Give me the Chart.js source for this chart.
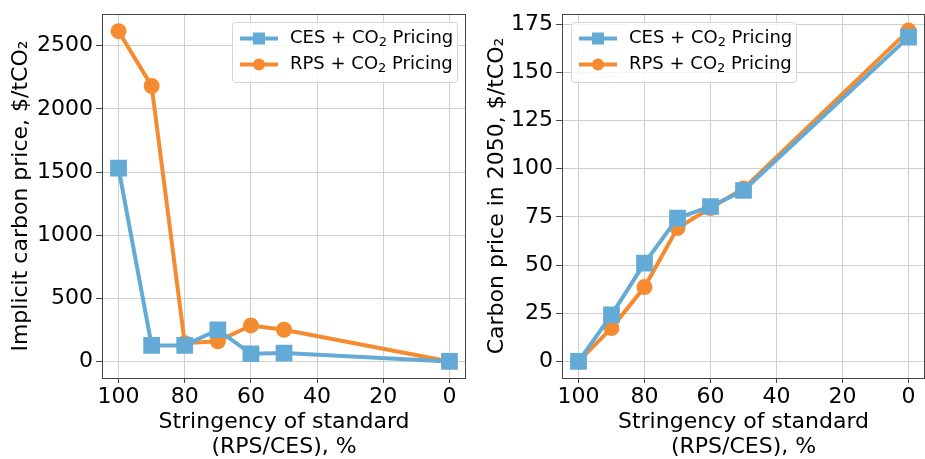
<!DOCTYPE html>
<html><head><meta charset="utf-8">
<script src="https://cdn.jsdelivr.net/npm/chart.js@4"></script>
<style>
html,body{margin:0;padding:0;background:#fff;}
#w{position:relative;width:925px;height:459px;}
#c1{position:absolute;left:0;top:0;}
#c2{position:absolute;left:470px;top:0;}
</style></head>
<body><div id="w"><canvas id="c1" width="470" height="459"></canvas><canvas id="c2" width="455" height="459"></canvas></div>
<script>
const stringency = [100, 90, 80, 70, 60, 50, 0];
const cesImplicit = [1530, 127, 127, 251, 61, 66, 0];
const rpsImplicit = [2615, 2181, 145, 160, 285, 251, 0];
const ces2050 = [0, 24.2, 51.0, 74.4, 80.4, 88.7, 168.3];
const rps2050 = [0, 17.3, 38.6, 69.2, 79.6, 89.7, 171.7];
const xTicks = [0, 20, 40, 60, 80, 100];
const yTicksLeft = [0, 500, 1000, 1500, 2000, 2500];
const yTicksRight = [0, 25, 50, 75, 100, 125, 150, 175];
const seriesNames = ['CES + CO\u2082 Pricing', 'RPS + CO\u2082 Pricing'];
const yTitles = ['Implicit carbon price, $/tCO\u2082', 'Carbon price in 2050, $/tCO\u2082'];
const xTitle = ['Stringency of standard', '(RPS/CES), %'];

const BLUE = '#63abd6', ORANGE = '#f58b31';
const FONT = 'DejaVu Sans';

function pts(vals){ return stringency.map((s,i)=>({x:s,y:vals[i]})); }

function drawSubText(ctx, text, x, y, size){
  const parts = text.split('\u2082');
  let cx = x;
  parts.forEach((p,i)=>{
    ctx.font = size+'px "'+FONT+'"';
    ctx.fillText(p, cx, y); cx += ctx.measureText(p).width;
    if (i < parts.length-1){
      const ss = Math.round(size*0.7);
      ctx.font = ss+'px "'+FONT+'"';
      ctx.fillText('2', cx, y + size*0.25); cx += ctx.measureText('2').width;
    }
  });
}

const frameLegend = {
  id:'frameLegend',
  afterDraw(chart, args, opts){
    const ctx = chart.ctx, a = chart.chartArea;
    ctx.save();
    ctx.strokeStyle = '#444'; ctx.lineWidth = 1;
    ctx.strokeRect(Math.round(a.left)+0.5, Math.round(a.top)+0.5, Math.round(a.right-a.left)-1, Math.round(a.bottom-a.top));
    const bx = opts.x, by = opts.y, bw = 225, bh = 60;
    ctx.fillStyle = 'rgba(255,255,255,0.8)';
    ctx.strokeStyle = '#d5d5d5';
    ctx.beginPath(); ctx.roundRect(bx+0.5, by+0.5, bw, bh, 3); ctx.fill(); ctx.stroke();
    chart.data.datasets.forEach((ds,i)=>{
      const cy = by + 16.5 + i*26;
      ctx.strokeStyle = ds.borderColor; ctx.lineWidth = 4;
      ctx.beginPath(); ctx.moveTo(bx+8, cy); ctx.lineTo(bx+46, cy); ctx.stroke();
      ctx.fillStyle = ds.borderColor;
      if (ds.pointStyle === 'rect') { ctx.fillRect(bx+27-6, cy-6, 12, 12); }
      else { ctx.beginPath(); ctx.arc(bx+27, cy, 6, 0, Math.PI*2); ctx.fill(); }
      ctx.fillStyle = '#000'; ctx.textBaseline = 'middle'; ctx.textAlign='left';
      drawSubText(ctx, ds.label, bx+58, cy, 18);
    });
    ctx.restore();
  }
};

function makeChart(id, a, b, yTicks, yMin, yMax, yTitle, yWidth, padRight, legX, titlePad){
  return new Chart(document.getElementById(id), {
    type:'line',
    data:{datasets:[
      {label:seriesNames[0], data:pts(a), borderColor:BLUE, backgroundColor:BLUE, borderWidth:4, pointStyle:'rect', pointRadius:9, pointHoverRadius:9, tension:0, clip:false},
      {label:seriesNames[1], data:pts(b), borderColor:ORANGE, backgroundColor:ORANGE, borderWidth:4, pointStyle:'circle', pointRadius:6, pointHoverRadius:6, tension:0, clip:false}
    ]},
    options:{
      responsive:false, animation:false, devicePixelRatio:1,
      layout:{autoPadding:false, padding:{top:14, right:padRight, left:0, bottom:0}},
      plugins:{legend:{display:false}, tooltip:{enabled:false}, frameLegend:{x:legX, y:22}},
      scales:{
        x:{type:'linear', reverse:true, min:-5, max:105,
          afterBuildTicks(s){ s.ticks = xTicks.map(v=>({value:v})); },
          afterFit(s){ s.height = 81; s.paddingLeft = 0; s.paddingRight = 0; },
          grid:{color:'#cfcfcf', lineWidth:1, tickLength:5, tickColor:'#444'},
          border:{display:false},
          ticks:{font:{family:FONT, size:22}, color:'#000', padding:1, maxRotation:0, callback:v=>String(v)},
          title:{display:true, text:xTitle, font:{family:FONT, size:22, lineHeight:1.1}, color:'#000', padding:{top:0,bottom:0}}
        },
        y:{type:'linear', min:yMin, max:yMax,
          afterBuildTicks(s){ s.ticks = yTicks.map(v=>({value:v})); },
          afterFit(s){ s.width = yWidth; s.paddingTop = 0; s.paddingBottom = 0; },
          grid:{color:'#cfcfcf', lineWidth:1, tickLength:6, tickColor:'#444'},
          border:{display:false},
          ticks:{font:{family:FONT, size:22}, color:'#000', padding:3, callback:v=>String(v)},
          title:{display:true, text:yTitle, font:{family:FONT, size:22, lineHeight:1.2}, color:'#000', padding:{top:titlePad,bottom:0}}
        }
      }
    },
    plugins:[frameLegend]
  });
}

makeChart('c1', cesImplicit, rpsImplicit, yTicksLeft, -131, 2751, yTitles[0], 102, 4, 232, 8);
makeChart('c2', ces2050, rps2050, yTicksRight, -8.6, 180.3, yTitles[1], 92, 0, 101, 14);
</script></body></html>
